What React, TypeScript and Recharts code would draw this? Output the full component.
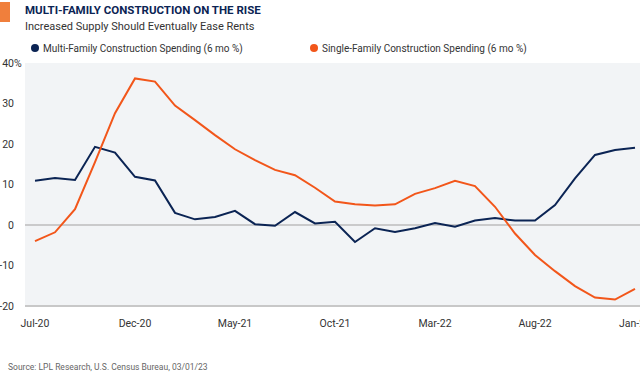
import { CartesianGrid, Line, LineChart, ReferenceLine, XAxis, YAxis } from "recharts";

const months = [
  "Jul-20", "Aug-20", "Sep-20", "Oct-20", "Nov-20", "Dec-20",
  "Jan-21", "Feb-21", "Mar-21", "Apr-21", "May-21", "Jun-21",
  "Jul-21", "Aug-21", "Sep-21", "Oct-21", "Nov-21", "Dec-21",
  "Jan-22", "Feb-22", "Mar-22", "Apr-22", "May-22", "Jun-22",
  "Jul-22", "Aug-22", "Sep-22", "Oct-22", "Nov-22", "Dec-22",
  "Jan-23",
];

// 6 mo % change
const multiFamily = [
  10.9, 11.6, 11.1, 19.3, 17.9, 11.9,
  11.0, 3.0, 1.4, 2.0, 3.5, 0.2,
  -0.2, 3.2, 0.4, 0.8, -4.2, -0.8,
  -1.7, -0.8, 0.5, -0.4, 1.1, 1.7,
  1.1, 1.1, 4.9, 11.5, 17.3, 18.5,
  19.1,
];

const singleFamily = [
  -4.0, -1.8, 3.9, 15.5, 27.6, 36.2,
  35.4, 29.5, 25.9, 22.2, 18.7, 16.0,
  13.6, 12.3, 9.2, 5.8, 5.1, 4.8,
  5.1, 7.7, 9.1, 10.9, 9.6, 4.5,
  -2.1, -7.4, -11.4, -15.1, -17.9, -18.4,
  -15.8,
];

const yTicks = [-20, -10, 0, 10, 20, 30, 40];
const xTicks = [0, 5, 10, 15, 20, 25, 30];

const NAVY = "#0b2454";
const ORANGE = "#f2561a";
const FONT = '"Liberation Sans Narrow", "Roboto", "Liberation Sans", sans-serif';

const rows = months.map((m, i) => ({
  i,
  month: m,
  multi: multiFamily[i],
  single: singleFamily[i],
}));

function YTick(props: any) {
  const { y, payload } = props;
  const v = payload.value;
  return (
    <g>
      <text x={14} y={y} dy="0.35em" textAnchor="end" fontSize={10.5} fill="#333" fontFamily={FONT}>
        {v}
      </text>
      {v === 40 && (
        <text x={14} y={y} dy="0.35em" textAnchor="start" fontSize={10.5} fill="#333" fontFamily={FONT}>
          %
        </text>
      )}
    </g>
  );
}

function XTick(props: any) {
  const { x, y, payload } = props;
  return (
    <text x={x} y={y} dy="0.71em" textAnchor="middle" fontSize={10.5} fill="#333" fontFamily={FONT}>
      {months[payload.value]}
    </text>
  );
}

function Dot({ color }: { color: string }) {
  return (
    <span
      style={{
        display: "inline-block",
        width: 8,
        height: 8,
        borderRadius: 4,
        background: color,
        marginRight: 4,
        verticalAlign: "middle",
        position: "relative",
        top: -1,
      }}
    />
  );
}

export default function App() {
  return (
    <div
      style={{
        position: "absolute",
        left: 0,
        top: 0,
        width: 640,
        height: 374,
        overflow: "hidden",
        background: "#fff",
        fontFamily: FONT,
      }}
    >
      <div
        style={{
          position: "absolute",
          left: 0,
          top: 2,
          width: 10,
          height: 20,
          background: "#f07f3c",
        }}
      />
      <div
        style={{
          position: "absolute",
          left: 25,
          top: 3,
          fontSize: 11.5,
          fontWeight: 700,
          color: "#0b2454",
          whiteSpace: "nowrap",
        }}
      >
        MULTI-FAMILY CONSTRUCTION ON THE RISE
      </div>
      <div
        style={{
          position: "absolute",
          left: 25,
          top: 20,
          fontSize: 11,
          color: "#333",
          whiteSpace: "nowrap",
        }}
      >
        Increased Supply Should Eventually Ease Rents
      </div>
      <div
        style={{
          position: "absolute",
          left: 31,
          top: 43,
          fontSize: 10,
          color: "#333",
          whiteSpace: "nowrap",
        }}
      >
        <Dot color={NAVY} />
        Multi-Family Construction Spending (6 mo %)
      </div>
      <div
        style={{
          position: "absolute",
          left: 310,
          top: 43,
          fontSize: 10,
          color: "#333",
          whiteSpace: "nowrap",
        }}
      >
        <Dot color={ORANGE} />
        Single-Family Construction Spending (6 mo %)
      </div>

      <div style={{ position: "absolute", left: 0, top: 0 }}>
        <LineChart
          width={660}
          height={340}
          data={rows}
          margin={{ top: 63, right: 20, bottom: 0, left: 0 }}
        >
          <CartesianGrid fill="#f2f4f6" horizontal={false} vertical={false} />
          <XAxis
            type="number"
            dataKey="i"
            domain={[-0.5, 30.25]}
            ticks={xTicks}
            allowDataOverflow
            height={34}
            axisLine={{ stroke: "#c8c8c8", strokeWidth: 2 }}
            tickLine={false}
            tick={<XTick />}
            tickMargin={8}
          />
          <YAxis
            type="number"
            domain={[-20, 40]}
            ticks={yTicks}
            width={25}
            axisLine={false}
            tickLine={false}
            tick={<YTick />}
          />
          <ReferenceLine y={0} stroke="#bdbdbd" strokeWidth={1.5} />
          <Line
            type="linear"
            dataKey="multi"
            stroke={NAVY}
            strokeWidth={2}
            dot={false}
            isAnimationActive={false}
          />
          <Line
            type="linear"
            dataKey="single"
            stroke={ORANGE}
            strokeWidth={2}
            dot={false}
            isAnimationActive={false}
          />
        </LineChart>
      </div>

      <div
        style={{
          position: "absolute",
          left: 8,
          top: 362,
          fontSize: 8.5,
          color: "#666",
          whiteSpace: "nowrap",
        }}
      >
        Source: LPL Research, U.S. Census Bureau, 03/01/23
      </div>
    </div>
  );
}
